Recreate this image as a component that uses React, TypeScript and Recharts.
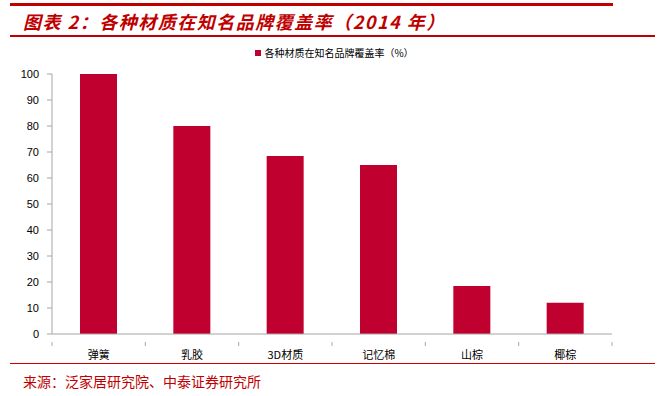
import React from 'react';
import { BarChart, Bar, XAxis, YAxis, Legend } from 'recharts';

const categories = ['弹簧', '乳胶', '3D材质', '记忆棉', '山棕', '椰棕'];
const coverage = [100, 80, 68.5, 65, 18.5, 12];
const yTicks = [0, 10, 20, 30, 40, 50, 60, 70, 80, 90, 100];

const SERIES_NAME = '各种材质在知名品牌覆盖率（%）';
const RED = '#c00000';
const BAR_RED = '#c0002f';
const CJK = '"Noto Sans CJK SC", "Liberation Sans", sans-serif';

const W = 669;
const H = 396;
const PLOT_LEFT = 52;
const PLOT_RIGHT = 612;
const PLOT_TOP = 74;
const PLOT_BOTTOM = 334;
const X_AXIS_H = 30;
const HALF_BAND = (PLOT_RIGHT - PLOT_LEFT) / categories.length / 2;

const data = categories.map((name, i) => ({ name, value: coverage[i] }));

// category labels centred, tick marks on the band edges
const CategoryTick = (props: any) => {
  const { x, y, payload, index } = props;
  return (
    <g>
      {index === 0 && (
        <line x1={x - HALF_BAND} y1={y} x2={x - HALF_BAND} y2={y + 4} stroke="#a6a6a6" />
      )}
      <line x1={x + HALF_BAND} y1={y} x2={x + HALF_BAND} y2={y + 4} stroke="#a6a6a6" />
      <text x={x} y={y + 17} textAnchor="middle" fontSize={11} fill="#000" fontFamily={CJK}>
        {payload.value}
      </text>
    </g>
  );
};

const LegendContent = () => (
  <div style={{ display: 'flex', justifyContent: 'center', alignItems: 'center', fontFamily: CJK, fontSize: 10, color: '#000' }}>
    <span style={{ display: 'inline-block', width: 6, height: 6, background: BAR_RED, marginRight: 3 }} />
    <span>{SERIES_NAME}</span>
  </div>
);

export default function App() {
  return (
    <div style={{ position: 'absolute', left: 0, top: 0, width: W, height: H, background: '#fff', overflow: 'hidden' }}>
      {/* header rules + title */}
      <div style={{ position: 'absolute', left: 10, top: 3, width: 603, height: 3, background: RED }} />
      <div
        style={{
          position: 'absolute', left: 23, top: 9, height: 24, lineHeight: '24px',
          fontFamily: CJK, fontSize: 18, fontWeight: 700, fontStyle: 'italic', color: RED,
          letterSpacing: 1.5, whiteSpace: 'nowrap',
        }}
      >
        图表 2：各种材质在知名品牌覆盖率（2014 年）
      </div>
      <div style={{ position: 'absolute', left: 10, top: 35, width: 645, height: 2, background: RED }} />

      <div style={{ position: 'absolute', left: 0, top: 0 }}>
        <BarChart
          width={W}
          height={H}
          data={data}
          margin={{ top: PLOT_TOP, right: W - PLOT_RIGHT, bottom: H - PLOT_BOTTOM - X_AXIS_H, left: 0 }}
          barCategoryGap="30%"
        >
          <XAxis
            dataKey="name"
            height={X_AXIS_H}
            axisLine={{ stroke: '#a6a6a6' }}
            tickLine={false}
            tick={<CategoryTick />}
            interval={0}
          />
          <YAxis
            width={PLOT_LEFT}
            domain={[0, 100]}
            ticks={yTicks}
            interval={0}
            axisLine={{ stroke: '#a6a6a6' }}
            tickLine={{ stroke: '#a6a6a6' }}
            tickSize={5}
            tickMargin={8}
            tick={{ fontSize: 11, fill: '#000', fontFamily: '"Liberation Sans", Arial, sans-serif' }}
          />
          <Legend
            layout="horizontal"
            verticalAlign="middle"
            align="center"
            wrapperStyle={{ top: 45, left: 0, width: W }}
            content={<LegendContent />}
          />
          <Bar dataKey="value" name={SERIES_NAME} fill={BAR_RED} isAnimationActive={false} />
        </BarChart>
      </div>

      {/* footer rule + source */}
      <div style={{ position: 'absolute', left: 10, top: 363, width: 645, height: 1, background: '#d00000' }} />
      <div
        style={{
          position: 'absolute', left: 23, top: 372, height: 18, lineHeight: '18px',
          fontFamily: CJK, fontSize: 14, color: RED, whiteSpace: 'nowrap',
        }}
      >
        来源：泛家居研究院、中泰证券研究所
      </div>
    </div>
  );
}
